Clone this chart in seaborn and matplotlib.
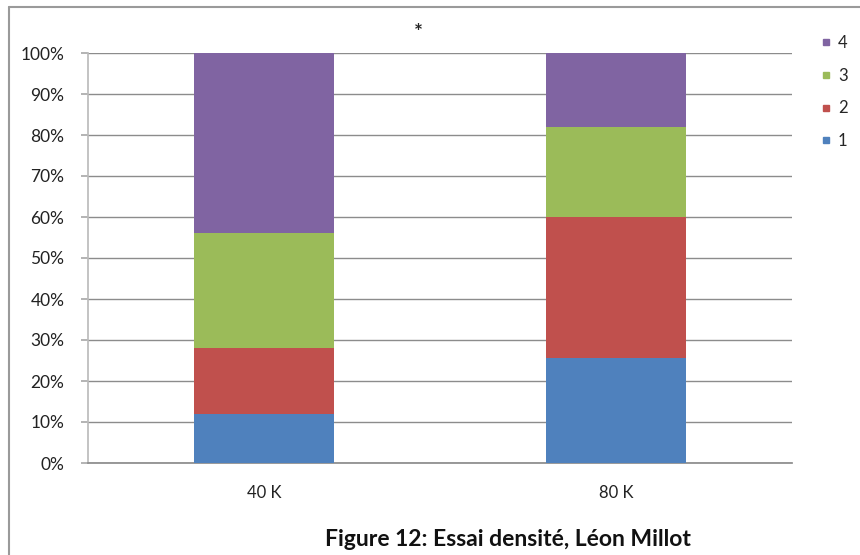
import numpy as np
import pandas as pd
import matplotlib
matplotlib.use("Agg")
import matplotlib.pyplot as plt
from matplotlib.lines import Line2D
import seaborn as sns

# Share of each class (%) per density
categories = ["40 K", "80 K"]
series_names = ["1", "2", "3", "4"]
share_1 = [12, 25.5]
share_2 = [16, 34.5]
share_3 = [28, 22]
share_4 = [44, 18]
colors = {"1": "#4F81BD", "2": "#C0504D", "3": "#9BBB59", "4": "#8064A2"}

sns.set_theme(style="white")
plt.rcParams["font.family"] = ["Lato", "DejaVu Sans"]

df = pd.DataFrame({"densite": categories, "1": share_1, "2": share_2,
                   "3": share_3, "4": share_4})
cum = df[series_names].cumsum(axis=1)

fig = plt.figure(figsize=(8.6, 5.55), dpi=100)
ax = fig.add_axes([88 / 860, 92 / 555, 704 / 860, 410 / 555])

# stacked bars: draw cumulative totals from the top series down
for name in reversed(series_names):
    sns.barplot(x=df["densite"], y=cum[name], color=colors[name], width=0.4,
                saturation=1, ax=ax, zorder=3, linewidth=0)

ax.set_xlim(-0.5, 1.5)
ax.set_ylim(0, 100)
ax.set_yticks(np.arange(0, 101, 10))
ax.set_yticklabels([f"{v}%" for v in range(0, 101, 10)], fontsize=12.5, color="#222222")
ax.tick_params(axis="x", labelsize=12, colors="#222222", length=0, pad=16)
ax.tick_params(axis="y", length=5, color="#aaaaaa", direction="out", pad=12, left=True)
ax.set_xlabel("")
ax.set_ylabel("")
ax.grid(axis="y", color="#8c8c8c", linewidth=1, zorder=0)
for side in ["top", "right"]:
    ax.spines[side].set_visible(False)
ax.spines["left"].set_color("#bbbbbb")
ax.spines["bottom"].set_color("#8c8c8c")

# legend on the right
handles = [Line2D([0], [0], marker="s", linestyle="", markersize=5,
                  markerfacecolor=colors[n], markeredgecolor=colors[n])
           for n in reversed(series_names)]
fig.legend(handles, list(reversed(series_names)), loc="upper left",
           bbox_to_anchor=(803 / 860, 1 - 20 / 555), frameon=False,
           fontsize=12, handletextpad=0.2, labelspacing=1.0,
           handlelength=1.0)

fig.text(418 / 860, 1 - 33 / 555, "*", fontsize=15, ha="center", va="center",
         fontweight="bold")
fig.text(508 / 860, 1 - 540 / 555, "Figure 12: Essai densité, Léon Millot",
         fontsize=16.5, fontweight="bold", ha="center", va="center", color="#111111")

# outer frame
fig.add_artist(Line2D([9 / 860, 9 / 860], [0, 1 - 7 / 555], transform=fig.transFigure,
                      color="#9a9a9a", linewidth=1.5))
fig.add_artist(Line2D([9 / 860, 1], [1 - 7 / 555, 1 - 7 / 555], transform=fig.transFigure,
                      color="#9a9a9a", linewidth=1.5))

fig.savefig("out.png", dpi=100, facecolor="white")
